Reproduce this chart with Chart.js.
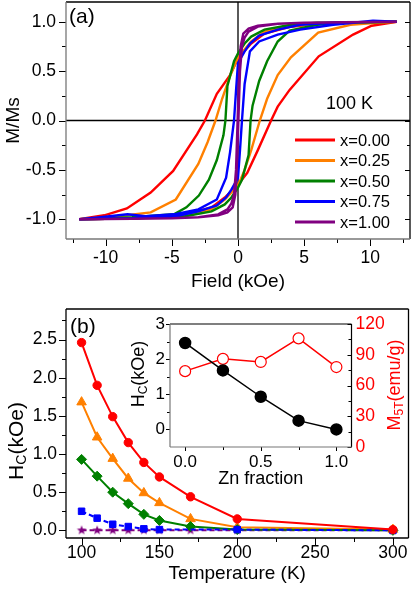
<!DOCTYPE html>
<html><head><meta charset="utf-8">
<script src="https://cdn.jsdelivr.net/npm/chart.js@4.4.1/dist/chart.umd.min.js"></script>
<style>
html,body{margin:0;padding:0;background:#fff;}
#wrap{position:relative;width:415px;height:589px;overflow:hidden;background:#fff;}
canvas{position:absolute;}
#ca{left:0;top:0;}
#cb{left:0;top:295px;}
#ci{left:130px;top:315px;}
</style></head><body>
<div id="wrap">
<canvas id="ca" width="415" height="295"></canvas>
<canvas id="cb" width="415" height="294"></canvas>
<canvas id="ci" width="275" height="175"></canvas>
</div>
<script>
// ---------- Panel (a): hysteresis loops at 100 K (field in kOe, M/Ms) ----------
const seriesLabels = ['x=0.00', 'x=0.25', 'x=0.50', 'x=0.75', 'x=1.00'];
const seriesColors = ['#ff0000', '#ff8000', '#008000', '#0000ff', '#800080'];

const hDown000 = [12, 10, 8, 6, 4, 2, 1, 0, -0.6, -1.6, -2.5, -3.1, -4.9, -6.6, -8.4, -10.1, -12];
const mDown000 = [1.0, 0.995, 0.99, 0.98, 0.95, 0.88, 0.78, 0.63, 0.46, 0.27, 0.0, -0.14, -0.51, -0.73, -0.89, -0.96, -1.0];
const hUp000 = [-12, -10, -8, -6, -4, -2, -1, 0, 0.7, 1.5, 2.5, 3.0, 3.9, 6.1, 8.7, 10.1, 12];
const mUp000 = [-1.0, -0.995, -0.99, -0.98, -0.95, -0.88, -0.78, -0.65, -0.53, -0.3, 0.0, 0.14, 0.31, 0.65, 0.87, 0.96, 1.0];

const hDown025 = [12, 10, 8, 6, 4, 2, 1, 0, -0.6, -1.2, -1.7, -2.3, -3.0, -4.7, -6.6, -8.4, -10, -12];
const mDown025 = [1.0, 0.995, 0.99, 0.98, 0.96, 0.9, 0.8, 0.64, 0.45, 0.22, 0.0, -0.22, -0.44, -0.8, -0.93, -0.96, -0.98, -1.0];
const hUp025 = [-12, -10, -8, -6, -4, -2, -1, 0, 0.5, 1.0, 1.65, 2.2, 3.0, 4.0, 6.06, 8.5, 10.5, 12];
const mUp025 = [-1.0, -0.995, -0.99, -0.98, -0.96, -0.9, -0.8, -0.66, -0.5, -0.3, 0.0, 0.22, 0.46, 0.64, 0.89, 0.97, 0.99, 1.0];

const hDown050 = [12, 8, 6, 4, 2, 1, 0.5, 0, -0.3, -0.8, -0.95, -1.1, -1.6, -2.2, -2.96, -3.9, -4.84, -8, -12];
const mDown050 = [1.0, 0.99, 0.99, 0.97, 0.92, 0.85, 0.78, 0.68, 0.6, 0.35, 0.0, -0.15, -0.4, -0.6, -0.76, -0.88, -0.95, -0.98, -1.0];
const hUp050 = [-12, -8, -4.84, -4, -2, -1, -0.5, 0, 0.3, 0.8, 0.95, 1.1, 1.6, 2.2, 3.0, 3.9, 6, 8, 12];
const mUp050 = [-1.0, -0.99, -0.98, -0.97, -0.92, -0.85, -0.78, -0.68, -0.6, -0.35, 0.0, 0.15, 0.4, 0.6, 0.8, 0.91, 0.97, 0.99, 1.0];

const hDown075 = [12, 10.2, 7.2, 4.7, 3, 1.6, 0.9, 0.5, 0, -0.15, -0.3, -0.6, -0.9, -1.6, -3, -4.84, -7, -8.35, -10.4, -12];
const mDown075 = [1.0, 1.0, 0.99, 0.97, 0.92, 0.86, 0.78, 0.7, 0.58, 0.3, 0.0, -0.32, -0.58, -0.8, -0.9, -0.95, -0.97, -0.95, -0.98, -1.0];
const hUp075 = [-12, -8, -4.7, -3, -1.6, -0.9, -0.5, 0, 0.15, 0.3, 0.5, 0.9, 1.6, 3, 4.7, 7.2, 10.2, 12];
const mUp075 = [-1.0, -0.99, -0.97, -0.92, -0.86, -0.78, -0.7, -0.58, -0.3, 0.0, 0.37, 0.7, 0.8, 0.87, 0.92, 0.97, 1.01, 1.0];

const hDown100 = [12, 8, 5, 3, 1.5, 0.8, 0.4, 0.2, 0.05, -0.03, -0.15, -0.3, -0.5, -0.8, -1.5, -3, -5, -8, -12];
const mDown100 = [1.0, 0.995, 0.99, 0.98, 0.96, 0.93, 0.88, 0.75, 0.35, 0.0, -0.5, -0.75, -0.84, -0.9, -0.95, -0.98, -0.99, -0.995, -1.0];
const hUp100 = [-12, -8, -5, -3, -1.5, -0.8, -0.4, -0.2, -0.05, 0.03, 0.15, 0.3, 0.5, 0.8, 1.5, 3, 5, 8, 12];
const mUp100 = [-1.0, -0.995, -0.99, -0.98, -0.96, -0.93, -0.88, -0.75, -0.35, 0.0, 0.5, 0.75, 0.84, 0.9, 0.95, 0.98, 0.99, 0.995, 1.0];

const fieldTicks = [-12.5, -10, -7.5, -5, -2.5, 0, 2.5, 5, 7.5, 10, 12.5];
const momentTicks = [-1, -0.75, -0.5, -0.25, 0, 0.25, 0.5, 0.75, 1];

// ---------- Panel (b): coercivity vs temperature ----------
const temperatures = [100, 110, 120, 130, 140, 150, 170, 200, 300];
const hc000 = [2.46, 1.90, 1.49, 1.15, 0.89, 0.70, 0.44, 0.15, 0.01];
const hc025 = [1.68, 1.22, 0.94, 0.68, 0.49, 0.36, 0.15, 0.04, 0.01];
const hc050 = [0.93, 0.71, 0.50, 0.35, 0.21, 0.13, 0.05, 0.01, 0.0];
const hc075 = [0.25, 0.16, 0.08, 0.05, 0.02, 0.01, null, 0.01, 0.0];
const hc100 = [0.0, 0.0, 0.0, 0.0, 0.0, 0.0, 0.0, 0.0, 0.0];
const tempTicks = [100, 125, 150, 175, 200, 225, 250, 275, 300];
const hcTicks = [0, 0.25, 0.5, 0.75, 1, 1.25, 1.5, 1.75, 2, 2.25, 2.5, 2.75];

// ---------- Inset: Hc (100 K) and M5T vs Zn fraction ----------
const znFraction = [0.0, 0.25, 0.5, 0.75, 1.0];
const hcInset = [2.46, 1.68, 0.93, 0.25, 0.0];
const m5T = [74, 86, 83, 106, 78];
const znTicks = [0, 0.25, 0.5, 0.75, 1];
const hcInsetTicks = [0, 0.5, 1, 1.5, 2, 2.5, 3];
const m5TTicks = [0, 15, 30, 45, 60, 75, 90, 105, 120];

// ---------- helpers ----------
const FONT = "'Liberation Sans', Arial, Helvetica, sans-serif";
Chart.defaults.font.family = FONT;
Chart.defaults.color = '#000';
Chart.defaults.animation = false;

const pts = (xs, ys) => xs.map((x, i) => ({ x: x, y: ys[i] }));
const setTicks = (list) => (scale) => { scale.ticks = list.map(v => ({ value: v })); };
const noPad = (s) => { s.paddingTop = 0; s.paddingBottom = 0; s.paddingLeft = 0; s.paddingRight = 0; };
const fixW = (w) => (scale) => { scale.width = w; noPad(scale); };
const fixH = (h) => (scale) => { scale.height = h; noPad(scale); };
const near = (v, step) => Math.abs(v / step - Math.round(v / step)) < 1e-6;

function makeStar(color, r) {
  const s = Math.ceil(r * 2 + 2);
  const c = document.createElement('canvas');
  c.width = s; c.height = s;
  const g = c.getContext('2d');
  g.fillStyle = color;
  g.beginPath();
  for (let i = 0; i < 10; i++) {
    const a = -Math.PI / 2 + i * Math.PI / 5;
    const rr = i % 2 === 0 ? r : r * 0.42;
    g.lineTo(s / 2 + rr * Math.cos(a), s / 2 + rr * Math.sin(a));
  }
  g.closePath(); g.fill();
  return c;
}

// frame + tick marks plugin
const framePlugin = {
  id: 'frameTicks',
  afterDatasetsDraw(chart, args, o) {
    const ctx = chart.ctx, a = chart.chartArea;
    ctx.save();
    ctx.lineCap = 'butt';
    (o.ticks || []).forEach(sp => {
      const s = chart.scales[sp.scale];
      ctx.strokeStyle = sp.color || '#000';
      ctx.lineWidth = 1;
      s.ticks.forEach(t => {
        const len = (t.label !== '' && t.label != null) ? sp.major : sp.minor;
        const p = Math.round(s.getPixelForValue(t.value)) + 0.5;
        ctx.beginPath();
        if (sp.side === 'bottom') { ctx.moveTo(p, a.bottom); ctx.lineTo(p, a.bottom + len * sp.dir); }
        if (sp.side === 'top') { ctx.moveTo(p, a.top); ctx.lineTo(p, a.top + len * sp.dir); }
        if (sp.side === 'left') { ctx.moveTo(a.left, p); ctx.lineTo(a.left + len * sp.dir, p); }
        if (sp.side === 'right') { ctx.moveTo(a.right, p); ctx.lineTo(a.right + len * sp.dir, p); }
        ctx.stroke();
      });
    });
    const f = o.frame || {};
    const w = f.width || 1.2;
    ctx.lineWidth = w;
    const line = (x1, y1, x2, y2, c) => { ctx.strokeStyle = c; ctx.beginPath(); ctx.moveTo(x1, y1); ctx.lineTo(x2, y2); ctx.stroke(); };
    line(a.left, a.top, a.right, a.top, f.top || '#000');
    line(a.right, a.top, a.right, a.bottom, f.right || '#000');
    line(a.left, a.bottom, a.right, a.bottom, f.bottom || '#000');
    line(a.left, a.top, a.left, a.bottom, f.left || '#000');
    ctx.restore();
  }
};

// zero crosshair for panel (a)
const crossPlugin = {
  id: 'zeroCross',
  beforeDatasetsDraw(chart, args, o) {
    if (!o.enabled) return;
    const ctx = chart.ctx, a = chart.chartArea;
    const x0 = chart.scales.x.getPixelForValue(0), y0 = chart.scales.y.getPixelForValue(0);
    ctx.save();
    ctx.strokeStyle = '#000'; ctx.lineWidth = 1.3;
    ctx.beginPath(); ctx.moveTo(x0, a.top); ctx.lineTo(x0, a.bottom); ctx.stroke();
    ctx.beginPath(); ctx.moveTo(a.left, y0); ctx.lineTo(a.right, y0); ctx.stroke();
    ctx.restore();
  }
};

// text labels and rich (subscript) axis titles
const textPlugin = {
  id: 'richText',
  afterDraw(chart, args, o) {
    const ctx = chart.ctx;
    ctx.save();
    (o.items || []).forEach(it => {
      ctx.save();
      ctx.translate(it.x, it.y);
      if (it.rotate) ctx.rotate(it.rotate);
      ctx.fillStyle = it.color || '#000';
      ctx.textBaseline = 'middle';
      ctx.textAlign = 'left';
      let total = 0;
      it.parts.forEach(p => { ctx.font = p.size + 'px ' + FONT; total += ctx.measureText(p.t).width; });
      let x = it.align === 'center' ? -total / 2 : 0;
      it.parts.forEach(p => {
        ctx.font = p.size + 'px ' + FONT;
        ctx.fillText(p.t, x, p.dy || 0);
        x += ctx.measureText(p.t).width;
      });
      ctx.restore();
    });
    ctx.restore();
  }
};

// custom in-plot legend for panel (a)
const legendPlugin = {
  id: 'inLegend',
  afterDraw(chart, args, o) {
    if (!o.enabled) return;
    const ctx = chart.ctx;
    ctx.save();
    ctx.font = o.size + 'px ' + FONT;
    ctx.textBaseline = 'middle';
    chart.data.datasets.forEach((ds, i) => {
      const y = o.y + i * o.dy;
      ctx.strokeStyle = ds.borderColor; ctx.lineWidth = 3;
      ctx.beginPath(); ctx.moveTo(o.x, y); ctx.lineTo(o.x + o.len, y); ctx.stroke();
      ctx.fillStyle = '#000';
      ctx.fillText(ds.label, o.x + o.len + 5, y + 1);
    });
    ctx.restore();
  }
};
Chart.register(framePlugin, crossPlugin, textPlugin, legendPlugin);

const noGrid = { display: false, drawTicks: false };
const noBorder = { display: false };

// ---------- Chart (a) ----------
const hs = [[hDown000, mDown000, hUp000, mUp000], [hDown025, mDown025, hUp025, mUp025], [hDown050, mDown050, hUp050, mUp050], [hDown075, mDown075, hUp075, mUp075], [hDown100, mDown100, hUp100, mUp100]];
new Chart(document.getElementById('ca'), {
  type: 'scatter',
  data: {
    datasets: hs.map((s, i) => ({
      label: seriesLabels[i],
      data: pts(s[0], s[1]).concat(pts(s[2], s[3])),
      showLine: true, borderColor: seriesColors[i], backgroundColor: seriesColors[i],
      borderWidth: 2.4, pointRadius: 0, tension: 0, order: 4 - i
    }))
  },
  options: {
    responsive: false,
    layout: { padding: { top: 2, right: 5, left: 0, bottom: 0 } },
    plugins: {
      legend: { display: false }, tooltip: { enabled: false },
      zeroCross: { enabled: true },
      inLegend: { enabled: true, x: 295, y: 140, dy: 20.5, len: 40, size: 16.5 },
      frameTicks: {
        frame: { left: '#777', bottom: '#777', top: '#000', right: '#000', width: 1.3 },
        ticks: [
          { scale: 'x', side: 'bottom', dir: 1, major: 7, minor: 4 },
          { scale: 'y', side: 'left', dir: -1, major: 7, minor: 4 },
          { scale: 'y', side: 'right', dir: -1, major: 5, minor: 3 }
        ]
      },
      richText: { items: [
        { x: 69, y: 17, parts: [{ t: '(a)', size: 21 }] },
        { x: 326, y: 104, parts: [{ t: '100 K', size: 18 }] }
      ] }
    },
    scales: {
      x: {
        type: 'linear', min: -13, max: 13,
        afterBuildTicks: setTicks(fieldTicks), afterFit: fixH(56),
        grid: noGrid, border: noBorder,
        ticks: { autoSkip: false, maxRotation: 0, padding: 9, font: { size: 17.5 },
          callback: v => near(v, 5) ? String(Math.round(v)) : '' },
        title: { display: true, text: 'Field (kOe)', font: { size: 19 }, padding: { top: 0, bottom: 2 } }
      },
      y: {
        type: 'linear', min: -1.2, max: 1.2,
        afterBuildTicks: setTicks(momentTicks), afterFit: fixW(66),
        grid: noGrid, border: noBorder,
        ticks: { autoSkip: false, padding: 10, font: { size: 17.5 },
          callback: v => near(v, 0.5) ? v.toFixed(1) : '' },
        title: { display: true, text: 'M/Ms', font: { size: 19 }, padding: { top: 2, bottom: 0 } }
      }
    }
  }
});

// ---------- Chart (b) ----------
const starImg = makeStar('#800080', 5);
const bSeries = [
  { d: hc000, style: 'circle', r: 4.2, dash: [], order: 0 },
  { d: hc025, style: 'triangle', r: 5.5, dash: [], order: 3 },
  { d: hc050, style: 'rectRot', r: 5, dash: [], order: 2 },
  { d: hc075, style: 'rect', r: 4.6, dash: [5, 3], order: 1 },
  { d: hc100, style: starImg, r: 5, dash: [5, 3], order: 4 }
];
new Chart(document.getElementById('cb'), {
  type: 'scatter',
  data: {
    datasets: bSeries.map((s, i) => ({
      label: seriesLabels[i],
      data: pts(temperatures, s.d).filter(p => p.y !== null),
      showLine: true, borderColor: seriesColors[i], backgroundColor: seriesColors[i],
      pointBorderColor: seriesColors[i], pointBackgroundColor: seriesColors[i],
      borderWidth: 2, borderDash: s.dash, pointStyle: s.style, pointRadius: s.r, pointBorderWidth: 1,
      tension: 0, order: s.order
    }))
  },
  options: {
    responsive: false,
    layout: { padding: { top: 14, right: 5, left: 0, bottom: 0 } },
    plugins: {
      legend: { display: false }, tooltip: { enabled: false },
      frameTicks: {
        frame: { width: 1.3 },
        ticks: [
          { scale: 'x', side: 'bottom', dir: 1, major: 7, minor: 4 },
          { scale: 'y', side: 'left', dir: -1, major: 7, minor: 4 }
        ]
      },
      richText: { items: [
        { x: 70, y: 32, parts: [{ t: '(b)', size: 21 }] },
        { x: 17, y: 146, rotate: -Math.PI / 2, align: 'center', parts: [
          { t: 'H', size: 21 }, { t: 'C', size: 14, dy: 5 }, { t: '(kOe)', size: 21 }] }
      ] }
    },
    scales: {
      x: {
        type: 'linear', min: 90, max: 310,
        afterBuildTicks: setTicks(tempTicks), afterFit: fixH(51),
        grid: noGrid, border: noBorder,
        ticks: { autoSkip: false, maxRotation: 0, padding: 5, font: { size: 17.5 },
          callback: v => near(v, 50) ? String(v) : '' },
        title: { display: true, text: 'Temperature (K)', font: { size: 19 }, padding: { top: 0, bottom: 4 } }
      },
      y: {
        type: 'linear', min: -0.1, max: 2.9,
        afterBuildTicks: setTicks(hcTicks), afterFit: fixW(66),
        grid: noGrid, border: noBorder,
        ticks: { autoSkip: false, padding: 9, font: { size: 17.5 },
          callback: v => near(v, 0.5) ? v.toFixed(1) : '' }
      }
    }
  }
});

// ---------- Inset ----------
new Chart(document.getElementById('ci'), {
  type: 'scatter',
  data: {
    datasets: [
      { label: 'Hc', data: pts(znFraction, hcInset), yAxisID: 'y', showLine: true,
        borderColor: '#000', backgroundColor: '#000', borderWidth: 1.5, pointRadius: 5.5,
        pointBackgroundColor: '#000', pointBorderColor: '#000', tension: 0, order: 0 },
      { label: 'M5T', data: pts(znFraction, m5T), yAxisID: 'y2', showLine: true,
        borderColor: '#ff0000', backgroundColor: '#fff', borderWidth: 1.5, pointRadius: 5.5,
        pointBackgroundColor: '#fff', pointBorderColor: '#ff0000', pointBorderWidth: 1.2, tension: 0, order: 1 }
    ]
  },
  options: {
    responsive: false,
    layout: { padding: { top: 9, right: 0, left: 0, bottom: 0 } },
    plugins: {
      legend: { display: false }, tooltip: { enabled: false },
      frameTicks: {
        frame: { left: '#777', bottom: '#777', top: '#000', right: '#000', width: 1.2 },
        ticks: [
          { scale: 'x', side: 'bottom', dir: 1, major: 4, minor: 3 },
          { scale: 'y', side: 'left', dir: -1, major: 4, minor: 3 },
          { scale: 'y2', side: 'right', dir: -1, major: 4, minor: 3 }
        ]
      },
      richText: { items: [
        { x: 9, y: 59, rotate: -Math.PI / 2, align: 'center', parts: [
          { t: 'H', size: 18 }, { t: 'C', size: 12, dy: 5 }, { t: '(kOe)', size: 18 }] },
        { x: 265, y: 70, rotate: -Math.PI / 2, align: 'center', color: '#ff0000', parts: [
          { t: 'M', size: 18 }, { t: '5T', size: 12, dy: 5 }, { t: '(emu/g)', size: 18 }] }
      ] }
    },
    scales: {
      x: {
        type: 'linear', min: -0.1, max: 1.1,
        afterBuildTicks: setTicks(znTicks), afterFit: fixH(43),
        grid: noGrid, border: noBorder,
        ticks: { autoSkip: false, maxRotation: 0, padding: 5, font: { size: 17 },
          callback: v => near(v, 0.5) ? v.toFixed(1) : '' },
        title: { display: true, text: 'Zn fraction', font: { size: 18 }, padding: { top: 0, bottom: 0 } }
      },
      y: {
        type: 'linear', position: 'left', min: -0.5, max: 3,
        afterBuildTicks: setTicks(hcInsetTicks), afterFit: fixW(40),
        grid: noGrid, border: noBorder,
        ticks: { autoSkip: false, padding: 5, font: { size: 17 },
          callback: v => near(v, 1) ? String(v) : '' }
      },
      y2: {
        type: 'linear', position: 'right', min: 0, max: 120,
        afterBuildTicks: setTicks(m5TTicks), afterFit: fixW(53.5),
        grid: noGrid, border: noBorder,
        ticks: { autoSkip: false, padding: 4, color: '#ff0000', font: { size: 17.5 },
          callback: v => near(v, 30) ? String(v) : '' }
      }
    }
  }
});
</script>
</body></html>
